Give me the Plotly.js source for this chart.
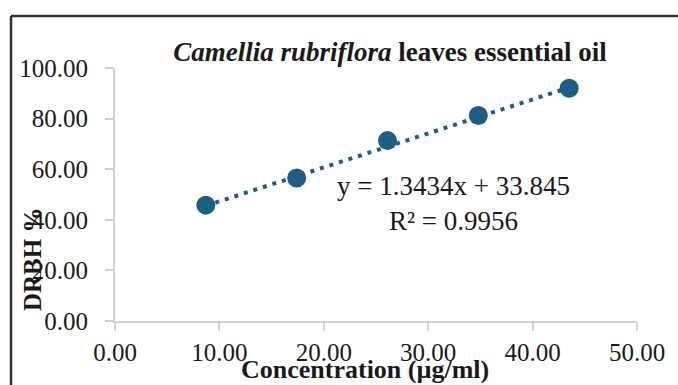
<!DOCTYPE html>
<html>
<head>
<meta charset="utf-8">
<script src="https://cdn.plot.ly/plotly-3.0.1.min.js"></script>
<style>html,body{margin:0;padding:0;background:#fff;}#chart{width:678px;height:385px;}</style>
</head>
<body>
<div id="chart"></div>
<script>
// Data
const concentration = [8.7, 17.4, 26.1, 34.8, 43.5];
const drbh = [45.8, 56.5, 71.3, 81.2, 92.0];
const trendSlope = 1.3434;
const trendIntercept = 33.845;
const r2 = 0.9956;
const xTicks = [0, 10, 20, 30, 40, 50];
const yTicks = [0, 20, 40, 60, 80, 100];

const xMin = Math.min(...concentration), xMax = Math.max(...concentration);
const trendX = [xMin, xMax];
const trendY = trendX.map(x => trendSlope * x + trendIntercept);

const color = '#1d5f80';
const font = '"Liberation Serif", "Times New Roman", serif';

const traces = [
  {x: trendX, y: trendY, mode: 'lines', type: 'scatter',
   line: {color: color, width: 4, dash: '4px,6px'}, hoverinfo: 'skip', showlegend: false},
  {x: concentration, y: drbh, mode: 'markers', type: 'scatter',
   marker: {color: color, size: 19}, showlegend: false}
];

const axisCommon = {
  showgrid: false, zeroline: false, showline: true, linecolor: '#d0d0d0', linewidth: 2,
  ticks: 'outside', ticklen: 8, tickcolor: '#d0d0d0', tickwidth: 2,
  tickfont: {family: font, size: 25, color: '#1a1a1a'}, tickformat: '.2f'
};

const layout = {
  width: 678, height: 385,
  margin: {l: 115, r: 41, t: 68, b: 64},
  paper_bgcolor: '#fff', plot_bgcolor: '#fff',
  font: {family: font, color: '#1a1a1a'},
  title: {text: '<b><i>Camellia rubriflora</i> leaves essential oil</b>',
          font: {family: font, size: 27, color: '#1a1a1a'},
          x: 390 / 678, xref: 'container', xanchor: 'center',
          y: 1 - 52 / 385, yref: 'container', yanchor: 'middle'},
  xaxis: Object.assign({}, axisCommon, {range: [0, 50], tickvals: xTicks, ticklabelstandoff: 0}),
  yaxis: Object.assign({}, axisCommon, {range: [0, 100], tickvals: yTicks, ticklabelstandoff: 12}),
  annotations: [
    {text: 'y = ' + trendSlope + 'x + ' + trendIntercept + '<br>R² = ' + r2,
     xref: 'paper', yref: 'paper', x: (453 - 115) / 522, y: (321 - 203) / 253,
     xanchor: 'center', yanchor: 'middle', showarrow: false,
     font: {family: font, size: 27, color: '#1a1a1a'}, align: 'center'},
    {text: '<b>Concentration (µg/ml)</b>', xref: 'paper', yref: 'paper',
     x: (365 - 115) / 522, y: (321 - 369) / 253, xanchor: 'center', yanchor: 'middle',
     showarrow: false, font: {family: font, size: 26, color: '#1a1a1a'}},
    {text: '<b>DRBH %</b>', xref: 'paper', yref: 'paper', textangle: -90,
     x: (32 - 115) / 522, y: (321 - 260) / 253, xanchor: 'center', yanchor: 'middle',
     showarrow: false, font: {family: font, size: 25, color: '#1a1a1a'}}
  ],
  shapes: [
    {type: 'line', xref: 'paper', yref: 'paper', x0: (11 - 115) / 522, x1: (11 - 115) / 522,
     y0: (321 - 16) / 253, y1: (321 - 400) / 253, line: {color: '#333', width: 2.5}},
    {type: 'line', xref: 'paper', yref: 'paper', x0: (11 - 115) / 522, x1: (700 - 115) / 522,
     y0: (321 - 16) / 253, y1: (321 - 16) / 253, line: {color: '#333', width: 2.5}}
  ]
};

Plotly.newPlot('chart', traces, layout, {displayModeBar: false, staticPlot: true});
</script>
</body>
</html>
